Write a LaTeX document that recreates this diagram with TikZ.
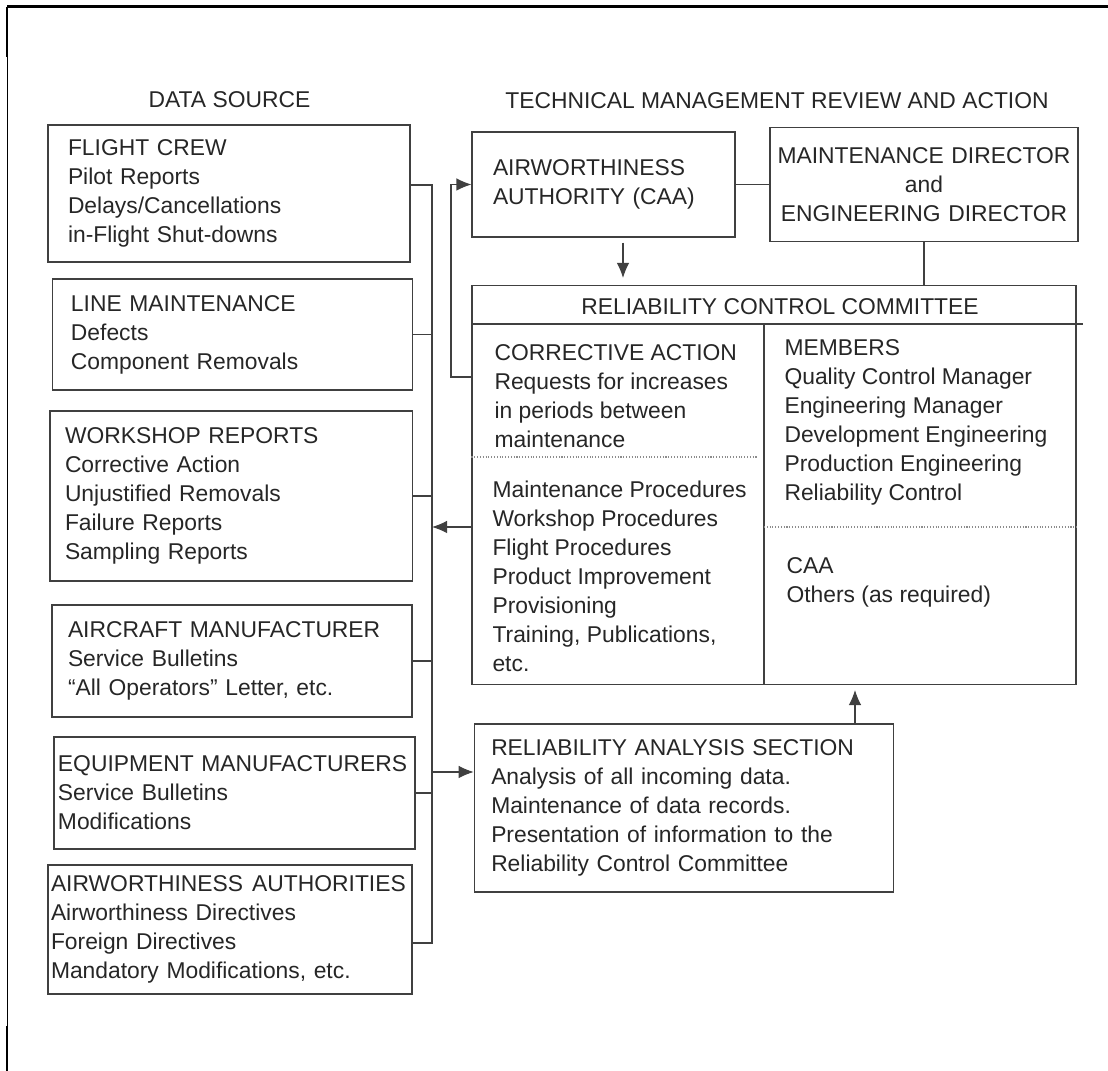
\documentclass[tikz,border=0pt]{standalone}
\usepackage{fontspec}
\setmainfont{Liberation Sans}
\usetikzlibrary{arrows.meta}

\begin{document}
\begin{tikzpicture}[line width=0.6pt, black!75, text=black!85, font=\fontsize{13}{16.5}\selectfont,
        box/.style = {draw, align=left, inner ysep=0pt},
        arr/.style = {-{Latex[length=3mm, width=2.5mm]}},
        dotline/.style = {densely dotted, black!45}]
        \useasboundingbox (0,0) rectangle (22.16,21.42);
        % frame
        \draw[line width=1.7pt, black] (0.14,21.28) -- (22.16,21.28);
        \draw[line width=0.5pt, black] (0.14,21.28) -- (0.14,0);
        \draw[line width=1.7pt, black] (0.14,21.28) -- (0.14,20.28);
        \draw[line width=1.7pt, black] (0.14,0.9) -- (0.14,0);
        % titles
        \node (10) at (4.59, 19.42) {DATA SOURCE};
        \node (11) at (15.54, 19.4) {TECHNICAL MANAGEMENT REVIEW AND ACTION};
        % data sources
        \node [box, text width=6.44cm, inner xsep=0.4cm, minimum height=2.74cm] (0) at (4.58, 17.55) {FLIGHT CREW\\Pilot Reports\\Delays/Cancellations\\in-Flight Shut-downs};
        \node [box, text width=6.46cm, inner xsep=0.37cm, minimum height=2.22cm] (1) at (4.65, 14.73) {LINE MAINTENANCE\\Defects\\Component Removals};
        \node [box, text width=6.65cm, inner xsep=0.3cm, minimum height=3.4cm] (2) at (4.625, 11.5) {WORKSHOP REPORTS\\Corrective Action\\Unjustified Removals\\Failure Reports\\Sampling Reports};
        \node [box, text width=6.56cm, inner xsep=0.32cm, minimum height=2.24cm] (3) at (4.64, 8.2) {AIRCRAFT MANUFACTURER\\Service Bulletins\\``All Operators'' Letter, etc.};
        \node [box, text width=7.06cm, inner xsep=0.08cm, minimum height=2.24cm] (4) at (4.69, 5.56) {\mbox{EQUIPMENT MANUFACTURERS}\\Service Bulletins\\Modifications};
        \node [box, text width=7.16cm, inner xsep=0.06cm, minimum height=2.58cm] (5) at (4.6, 2.83) {\mbox{AIRWORTHINESS\hspace{0.4em}AUTHORITIES}\\Airworthiness Directives\\Foreign Directives\\Mandatory Modifications, etc.};
        % review and action
        \node [box, text width=4.42cm, inner xsep=0.42cm, minimum height=2.1cm] (6) at (12.07, 17.73) {AIRWORTHINESS\\AUTHORITY (CAA)};
        \node [box, align=center, text width=6cm, inner xsep=0.08cm, minimum height=2.28cm] (7) at (18.48, 17.73) {\mbox{MAINTENANCE DIRECTOR}\\and\\\mbox{ENGINEERING DIRECTOR}};
        \node [box, minimum width=12.08cm, minimum height=7.98cm] (8) at (15.48, 11.72) {};
        \node [box, text width=7.71cm, inner xsep=0.34cm, minimum height=3.36cm] (9) at (13.68, 5.26) {RELIABILITY ANALYSIS SECTION\\Analysis of all incoming data.\\Maintenance of data records.\\Presentation of information to the\\Reliability Control Committee};
        % committee contents
        \node (12) at (15.6, 15.28) {RELIABILITY CONTROL COMMITTEE};
        \node [align=left, anchor=west, inner sep=0pt] (13) at (9.88, 13.5) {CORRECTIVE ACTION\\Requests for increases\\in periods between\\maintenance};
        \node [align=left, anchor=west, inner sep=0pt] (14) at (9.84, 9.9) {Maintenance Procedures\\Workshop Procedures\\Flight Procedures\\Product Improvement\\Provisioning\\Training, Publications,\\etc.};
        \node [align=left, anchor=west, inner sep=0pt] (15) at (15.68, 12.97) {MEMBERS\\Quality Control Manager\\Engineering Manager\\Development Engineering\\Production Engineering\\Reliability Control};
        \node [align=left, anchor=west, inner sep=0pt] (16) at (15.72, 9.77) {CAA\\Others (as required)};
        \coordinate (bt) at (8.64, 17.72);
        \coordinate (bb) at (8.64, 2.56);
        \coordinate (bi) at (8.64, 10.88);
        \coordinate (bo) at (8.64, 5.98);
        \coordinate (fb) at (9.02, 13.88);
        \coordinate (hl) at (21.66, 14.94);
        \coordinate (dv) at (15.28, 14.94);
        \coordinate (d1) at (15.16, 12.28);
        \coordinate (d2) at (15.28, 10.88);
        \draw (8.west |- hl) -- (hl);
        \draw (dv) -- (dv |- 8.south);
        \draw[dotline] (8.west |- d1) -- (d1);
        \draw[dotline] (d2) -- (d2 -| 8.east);
        % connectors
        \draw (0.east |- bt) -- (bt) -- (bb) -- (5.east |- bb);
        \draw (1.east) -- (1.east -| bt);
        \draw (2.east) -- (2.east -| bt);
        \draw (3.east) -- (3.east -| bt);
        \draw (4.east) -- (4.east -| bt);
        \draw[arr] (bi -| 8.west) -- (bi);
        \draw[arr] (bo) -- (bo -| 9.west);
        \draw[arr] (fb -| 8.west) -- (fb) |- (6.west);
        \draw (6.east) -- (7.west);
        \draw[arr, shorten <=0.1cm, shorten >=0.14cm] ([xshift=0.39cm]6.south) -- ([xshift=0.39cm]6.south |- 8.north);
        \draw (7.south) -- (7.south |- 8.north);
        \draw[arr, shorten >=0.1cm] ([xshift=3.42cm]9.north) -- ([xshift=3.42cm]9.north |- 8.south);
\end{tikzpicture}
\end{document}
